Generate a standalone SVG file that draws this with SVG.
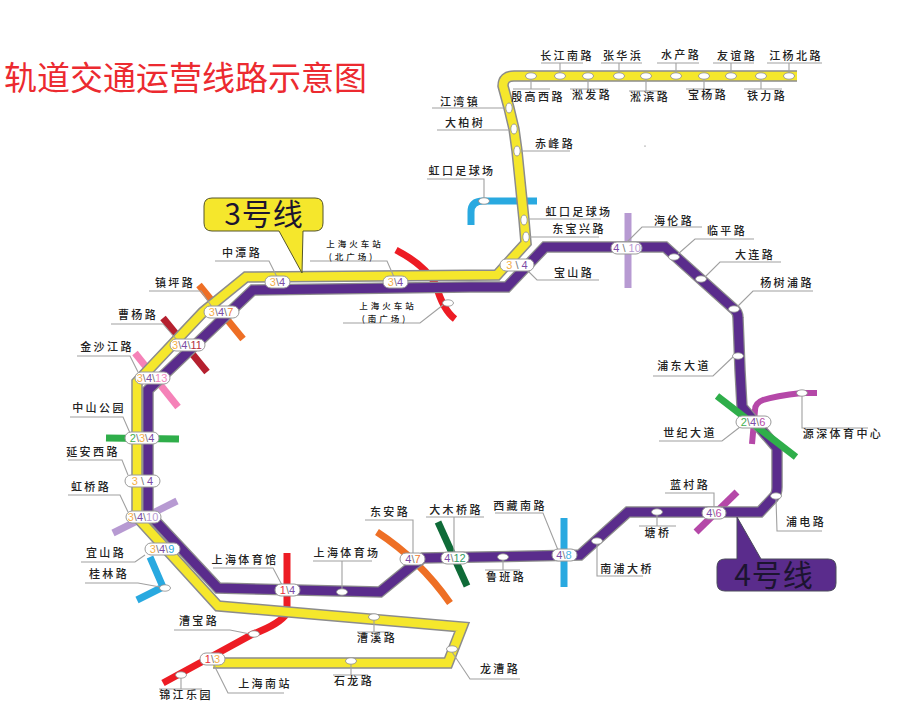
<svg xmlns="http://www.w3.org/2000/svg" width="921" height="722" viewBox="0 0 921 722">
<style>
text{font-family:"Noto Sans CJK SC","Noto Sans",sans-serif}
.t{font-size:11px;letter-spacing:2.4px;text-anchor:middle;fill:#222;font-weight:500}
.t2{font-size:8.5px;letter-spacing:3px;text-anchor:middle;fill:#222;font-weight:500}
.ld{fill:none;stroke:#a0a0a0;stroke-width:1.1}
.s{fill:#fff;stroke:#8a8a8a;stroke-width:.8}
.p{fill:#fff;stroke:#9a9a9a;stroke-width:1}
.n{font-family:"Liberation Sans",Arial,sans-serif;font-size:11px;text-anchor:middle;fill:#777}
.case{fill:none;stroke:#8c8c8c;stroke-width:11.5;stroke-linejoin:miter}
.yl{fill:none;stroke:#f5e72c;stroke-width:8.5;stroke-linejoin:miter}
.pu{fill:none;stroke:#5a2c8c;stroke-width:9;stroke-linejoin:miter}
.c3{fill:#f5b04a}.c4{fill:#7c4ca6}.c7{fill:#ee7a36}.c11{fill:#b23040}.c13{fill:#f28ac0}.c2{fill:#45b050}.c10{fill:#b79ad2}.c9{fill:#2aa9de}.c1{fill:#e8303a}.c12{fill:#2f9a62}.c6{fill:#b548a8}.c8{fill:#4ab4e4}
.cal{font-size:30px;letter-spacing:1px;text-anchor:middle;fill:#1c1430}
</style>
<defs>
<path id="l3" d="M797 76H514Q503 76 503 86L509 108L514 129L517 151L524 220L526 243L497 275L246 277L203 312L137 382V517L218 606L462 627L448 663H213"/>
<path id="l4" d="M545 247H665L734 309Q738 312 738 318L740 370L742 407L777 448V487Q777 494 774 497L760 512H628L580 555L480 557L423 558L413 565L380 592L218 588L148 513V390L253 290L470 287H507Z"/>
</defs>
<text x="4" y="90" style="font-size:33px;fill:#ec2a30" id="title">轨道交通运营线路示意图</text>
<g id="connectors">
<g fill="none">
<path d="M287 553V613Q280 624 253 634L163 683" stroke="#ed1c24" stroke-width="7"/>
<path d="M150 557L163 587L137 600" stroke="#29a9e0" stroke-width="7"/>
<path d="M199 285L243 339" stroke="#ee6f25" stroke-width="7"/>
<path d="M163 318L207 372" stroke="#b5202f" stroke-width="7"/>
<path d="M135 353L178 407" stroke="#f582b8" stroke-width="7"/>
<path d="M106 438L179 439" stroke="#2fae4a" stroke-width="7"/>
<path d="M113 533L177 501" stroke="#b79ad2" stroke-width="7"/>
<path d="M377 532Q420 560 450 603" stroke="#ee6f25" stroke-width="7"/>
<path d="M438 522L467 586" stroke="#0f6b38" stroke-width="7"/>
<path d="M564 518V587" stroke="#29a9e0" stroke-width="7"/>
<path d="M737 492L696 532" stroke="#b548a8" stroke-width="7"/>
<path d="M817 393H802Q775 396 763 400Q755 403 755 410L752 444" stroke="#b548a8" stroke-width="6"/>
<path d="M628 213V288" stroke="#b79ad2" stroke-width="7"/>
<path d="M537 201H483Q471 201 471 212V225" stroke="#29a9e0" stroke-width="7"/>
<path d="M396 250Q425 265 436 285Q443 310 455 319" stroke="#ed1c24" stroke-width="7"/>
</g>
<use href="#l4" class="case"/><use href="#l4" class="pu"/>
<use href="#l3" class="case"/><use href="#l3" class="yl"/>
<path d="M717 396L796 457" fill="none" stroke="#2fae4a" stroke-width="7"/>
</g>

<g id="callout-3"><path d="M212 198H315Q323 198 323 206V223Q323 231 315 231H303L302 273L279 231H212Q204 231 204 223V206Q204 198 212 198Z" fill="#f5e72c" stroke="#55552a" stroke-width="1"/><text x="264" y="225" class="cal">3号线</text></g>
<g id="callout-4"><path d="M725 559H737V517L761 559H828Q836 559 836 567V583Q836 591 828 591H725Q717 591 717 583V567Q717 559 725 559Z" fill="#5a2c8c" stroke="#4a4a5a" stroke-width="1"/><text x="774" y="586" class="cal">4号线</text></g>

<g id="changjiangnan"><path class="ld" d="M541 63H583M560 63V76"/><ellipse class="s" cx="560" cy="76" rx="5.5" ry="3.2"/><text x="567" y="60" class="t">长江南路</text></g>
<g id="zhanghuabang"><path class="ld" d="M601 63H642M619 63V76"/><ellipse class="s" cx="619" cy="76" rx="5.5" ry="3.2"/><text x="623" y="60" class="t">张华浜</text></g>
<g id="shuichan"><path class="ld" d="M657 63H699M676 63V76"/><ellipse class="s" cx="676" cy="76" rx="5.5" ry="3.2"/><text x="681" y="59" class="t">水产路</text></g>
<g id="youyi"><path class="ld" d="M713 63H754M731 63V76"/><ellipse class="s" cx="731" cy="76" rx="5.5" ry="3.2"/><text x="737" y="60" class="t">友谊路</text></g>
<g id="jiangyangbei"><path class="ld" d="M767 63H822M789 63V76"/><ellipse class="s" cx="789" cy="76" rx="5.5" ry="3.2"/><text x="796" y="60" class="t">江杨北路</text></g>
<g id="yingaoxi"><path class="ld" d="M513 89H550M531 89V76"/><ellipse class="s" cx="531" cy="76" rx="5.5" ry="3.2"/><text x="538" y="101" class="t">殷高西路</text></g>
<g id="songfa"><path class="ld" d="M570 89H608M588 89V76"/><ellipse class="s" cx="588" cy="76" rx="5.5" ry="3.2"/><text x="592" y="99" class="t">淞发路</text></g>
<g id="songbin"><path class="ld" d="M629 91H666M646 91V76"/><ellipse class="s" cx="646" cy="76" rx="5.5" ry="3.2"/><text x="650" y="101" class="t">淞滨路</text></g>
<g id="baoyang"><path class="ld" d="M686 89H723M704 89V76"/><ellipse class="s" cx="704" cy="76" rx="5.5" ry="3.2"/><text x="708" y="99" class="t">宝杨路</text></g>
<g id="tieli"><path class="ld" d="M744 89H782M761 89V76"/><ellipse class="s" cx="761" cy="76" rx="5.5" ry="3.2"/><text x="767" y="100" class="t">铁力路</text></g>
<g id="jiangwan"><path class="ld" d="M432 108H505"/><ellipse class="s" cx="509" cy="108" rx="3.2" ry="5"/><text x="460" y="106" class="t">江湾镇</text></g>
<g id="dabaishu"><path class="ld" d="M437 130H510"/><ellipse class="s" cx="514" cy="129" rx="3.2" ry="5"/><text x="465" y="127" class="t">大柏树</text></g>
<g id="chifeng"><path class="ld" d="M521 151H570"/><ellipse class="s" cx="517" cy="151" rx="3.2" ry="5"/><text x="555" y="148" class="t">赤峰路</text></g>
<g id="hongkou-blue"><path class="ld" d="M427 179H484V198"/><ellipse class="s" cx="484" cy="201" rx="5.5" ry="3.2"/><text x="462" y="175" class="t">虹口足球场</text></g>
<g id="hongkou-yellow"><path class="ld" d="M528 219H601"/><ellipse class="s" cx="524" cy="220" rx="3.2" ry="5"/><text x="579" y="216" class="t">虹口足球场</text></g>
<g id="dongbaoxing"><path class="ld" d="M530 237H599"/><ellipse class="s" cx="526" cy="237" rx="3.2" ry="5"/><text x="579" y="233" class="t">东宝兴路</text></g>
<g id="baoshan"><path class="ld" d="M527 270L537 280H599"/><rect class="p" x="500" y="259" width="34" height="12" rx="6"/><text x="517" y="269" class="n"><tspan class="c3">3</tspan> \ <tspan class="c4">4</tspan></text><text x="574" y="277" class="t">宝山路</text></g>
<g id="hailun"><path class="ld" d="M627 242L642 227H702"/><rect class="p" x="611" y="242" width="31" height="12" rx="6"/><text x="627" y="252" class="n"><tspan class="c4">4</tspan> \ <tspan class="c10">10</tspan></text><text x="674" y="225" class="t">海伦路</text></g>
<g id="linping"><path class="ld" d="M678 254L695 239H754"/><ellipse class="s" cx="674" cy="257" rx="5.5" ry="3.2"/><text x="727" y="235" class="t">临平路</text></g>
<g id="dalian"><path class="ld" d="M705 277L720 262H781"/><ellipse class="s" cx="701" cy="279" rx="5.5" ry="3.2"/><text x="755" y="259" class="t">大连路</text></g>
<g id="yangshupu"><path class="ld" d="M737 307L753 291H813"/><ellipse class="s" cx="734" cy="309" rx="5.5" ry="3.2"/><text x="787" y="287" class="t">杨树浦路</text></g>
<g id="pudong"><path class="ld" d="M653 376H713L734 356"/><ellipse class="s" cx="738" cy="356" rx="5.5" ry="3.2"/><text x="684" y="370" class="t">浦东大道</text></g>
<g id="shiji"><path class="ld" d="M659 441H722L740 427"/><rect class="p" x="736" y="416" width="35" height="12" rx="6"/><text x="753" y="426" class="n"><tspan class="c2">2</tspan>\<tspan class="c4">4</tspan>\<tspan class="c6">6</tspan></text><text x="690" y="437" class="t">世纪大道</text></g>
<g id="yuanshen"><path class="ld" d="M802 396V428H868"/><ellipse class="s" cx="802" cy="393" rx="5.5" ry="3.2"/><text x="843" y="438" class="t">源深体育中心</text></g>
<g id="pudian"><path class="ld" d="M776 499L777 531H822"/><ellipse class="s" cx="776" cy="496" rx="5.5" ry="3.2"/><text x="806" y="526" class="t">浦电路</text></g>
<g id="lancun"><path class="ld" d="M665 493H714V507"/><rect class="p" x="702" y="507" width="24" height="12" rx="6"/><text x="714" y="517" class="n"><tspan class="c4">4</tspan>\<tspan class="c6">6</tspan></text><text x="690" y="489" class="t">蓝村路</text></g>
<g id="tangqiao"><path class="ld" d="M639 526H676M657 512V526"/><ellipse class="s" cx="657" cy="512" rx="5.5" ry="3.2"/><text x="658" y="537" class="t">塘桥</text></g>
<g id="nanpu"><path class="ld" d="M597 544V576H643"/><ellipse class="s" cx="597" cy="541" rx="5.5" ry="3.2"/><text x="627" y="573" class="t">南浦大桥</text></g>
<g id="xizangnan"><path class="ld" d="M495 513H543L558 550"/><rect class="p" x="552" y="549" width="25" height="12" rx="6"/><text x="564" y="559" class="n"><tspan class="c4">4</tspan>\<tspan class="c8">8</tspan></text><text x="520" y="510" class="t">西藏南路</text></g>
<g id="luban"><path class="ld" d="M485 570H520M503 557V570"/><ellipse class="s" cx="503" cy="557" rx="5.5" ry="3.2"/><text x="506" y="581" class="t">鲁班路</text></g>
<g id="damuqiao"><path class="ld" d="M426 517H484M454 517V552"/><rect class="p" x="441" y="552" width="28" height="12" rx="6"/><text x="455" y="562" class="n"><tspan class="c4">4</tspan>\<tspan class="c12">12</tspan></text><text x="456" y="514" class="t">大木桥路</text></g>
<g id="dongan"><path class="ld" d="M365 520H413V553"/><rect class="p" x="400" y="553" width="25" height="12" rx="6"/><text x="413" y="563" class="n"><tspan class="c4">4</tspan>\<tspan class="c7">7</tspan></text><text x="390" y="516" class="t">东安路</text></g>
<g id="stadium"><path class="ld" d="M313 561H372M342 561V589"/><ellipse class="s" cx="342" cy="592" rx="5.5" ry="3.2"/><text x="347" y="557" class="t">上海体育场</text></g>
<g id="gym"><path class="ld" d="M213 568H273L282 585"/><rect class="p" x="275" y="584" width="25" height="12" rx="6"/><text x="287.500" y="594" class="n"><tspan class="c1">1</tspan>\<tspan class="c4">4</tspan></text><text x="245" y="564" class="t">上海体育馆</text></g>
<g id="caoxi"><path class="ld" d="M357 632H390M374 617V632"/><ellipse class="s" cx="374" cy="617" rx="5.5" ry="3.2"/><text x="377" y="642" class="t">漕溪路</text></g>
<g id="longcao"><path class="ld" d="M452 652L470 679H520"/><ellipse class="s" cx="452" cy="649" rx="5.5" ry="3.2"/><text x="500" y="673" class="t">龙漕路</text></g>
<g id="shilong"><path class="ld" d="M333 675H368M351 661V675"/><ellipse class="s" cx="351" cy="661" rx="5.5" ry="3.2"/><text x="354" y="685" class="t">石龙路</text></g>
<g id="shanghainan"><path class="ld" d="M213 663L228 693H284"/><rect class="p" x="200" y="653" width="25" height="12" rx="6"/><text x="212.500" y="663" class="n"><tspan class="c1">1</tspan>\<tspan class="c3">3</tspan></text><text x="265" y="688" class="t">上海南站</text></g>
<g id="jinjiang"><path class="ld" d="M159 689H202M181 675V689"/><ellipse class="s" cx="181" cy="675" rx="5.5" ry="3.2"/><text x="186" y="699" class="t">锦江乐园</text></g>
<g id="caobao"><path class="ld" d="M174 630H230L250 634"/><ellipse class="s" cx="254" cy="634" rx="5.5" ry="3.2"/><text x="199" y="625" class="t">漕宝路</text></g>
<g id="guilin"><path class="ld" d="M85 583H138L160 587"/><ellipse class="s" cx="165" cy="588" rx="5.500" ry="3.2"/><text x="109" y="578" class="t">桂林路</text></g>
<g id="yishan"><path class="ld" d="M81 562H135L145 555"/><rect class="p" x="145" y="543" width="35" height="12" rx="6"/><text x="162" y="553" class="n"><tspan class="c3">3</tspan>\<tspan class="c4">4</tspan>\<tspan class="c9">9</tspan></text><text x="106" y="557" class="t">宜山路</text></g>
<g id="hongqiao"><path class="ld" d="M68 495H120L128 512"/><rect class="p" x="126" y="511" width="35" height="12" rx="6"/><text x="143" y="521" class="n"><tspan class="c3">3</tspan>\<tspan class="c4">4</tspan>\<tspan class="c10">10</tspan></text><text x="91" y="491" class="t">虹桥路</text></g>
<g id="yanan"><path class="ld" d="M68 460H122L128 475"/><rect class="p" x="125" y="475" width="35" height="12" rx="6"/><text x="142.500" y="485" class="n"><tspan class="c3">3</tspan> \ <tspan class="c4">4</tspan></text><text x="93" y="456" class="t">延安西路</text></g>
<g id="zhongshan"><path class="ld" d="M70 417H123L130 433"/><rect class="p" x="125" y="432" width="34" height="12" rx="6"/><text x="142" y="442" class="n"><tspan class="c2">2</tspan>\<tspan class="c3">3</tspan>\<tspan class="c4">4</tspan></text><text x="99" y="412" class="t">中山公园</text></g>
<g id="jinshajiang"><path class="ld" d="M77 356H130L138 372"/><rect class="p" x="135" y="372" width="35" height="12" rx="6"/><text x="152" y="382" class="n"><tspan class="c3">3</tspan>\<tspan class="c4">4</tspan>\<tspan class="c13">13</tspan></text><text x="107" y="351" class="t">金沙江路</text></g>
<g id="caoyang"><path class="ld" d="M111 324H163L177 340"/><rect class="p" x="170" y="339" width="35" height="12" rx="6"/><text x="187" y="349" class="n"><tspan class="c3">3</tspan>\<tspan class="c4">4</tspan>\<tspan class="c11">11</tspan></text><text x="138" y="319" class="t">曹杨路</text></g>
<g id="zhenping"><path class="ld" d="M149 291H201L212 307"/><rect class="p" x="204" y="306" width="35" height="12" rx="6"/><text x="221" y="316" class="n"><tspan class="c3">3</tspan>\<tspan class="c4">4</tspan>\<tspan class="c7">7</tspan></text><text x="175" y="287" class="t">镇坪路</text></g>
<g id="zhongtan"><path class="ld" d="M215 261H269L277 277"/><rect class="p" x="265" y="276" width="25" height="12" rx="6"/><text x="277.500" y="286" class="n"><tspan class="c3">3</tspan>\<tspan class="c4">4</tspan></text><text x="242" y="257" class="t">中潭路</text></g>
<g id="shanghai-north"><path class="ld" d="M310 261H387L394 277"/><rect class="p" x="383" y="276" width="25" height="12" rx="6"/><text x="395.500" y="286" class="n"><tspan class="c3">3</tspan>\<tspan class="c4">4</tspan></text><text x="355" y="247" class="t2">上海火车站</text><text x="352" y="259.500" class="t2">(北广场)</text></g>
<g id="shanghai-south"><path class="ld" d="M343 323H420L443 305"/><ellipse class="s" cx="448" cy="303" rx="5.5" ry="3.2"/><text x="388" y="309" class="t2">上海火车站</text><text x="385" y="321.500" class="t2">(南广场)</text></g>
<circle cx="645" cy="146" r=".5" fill="#333"/>
</svg>
